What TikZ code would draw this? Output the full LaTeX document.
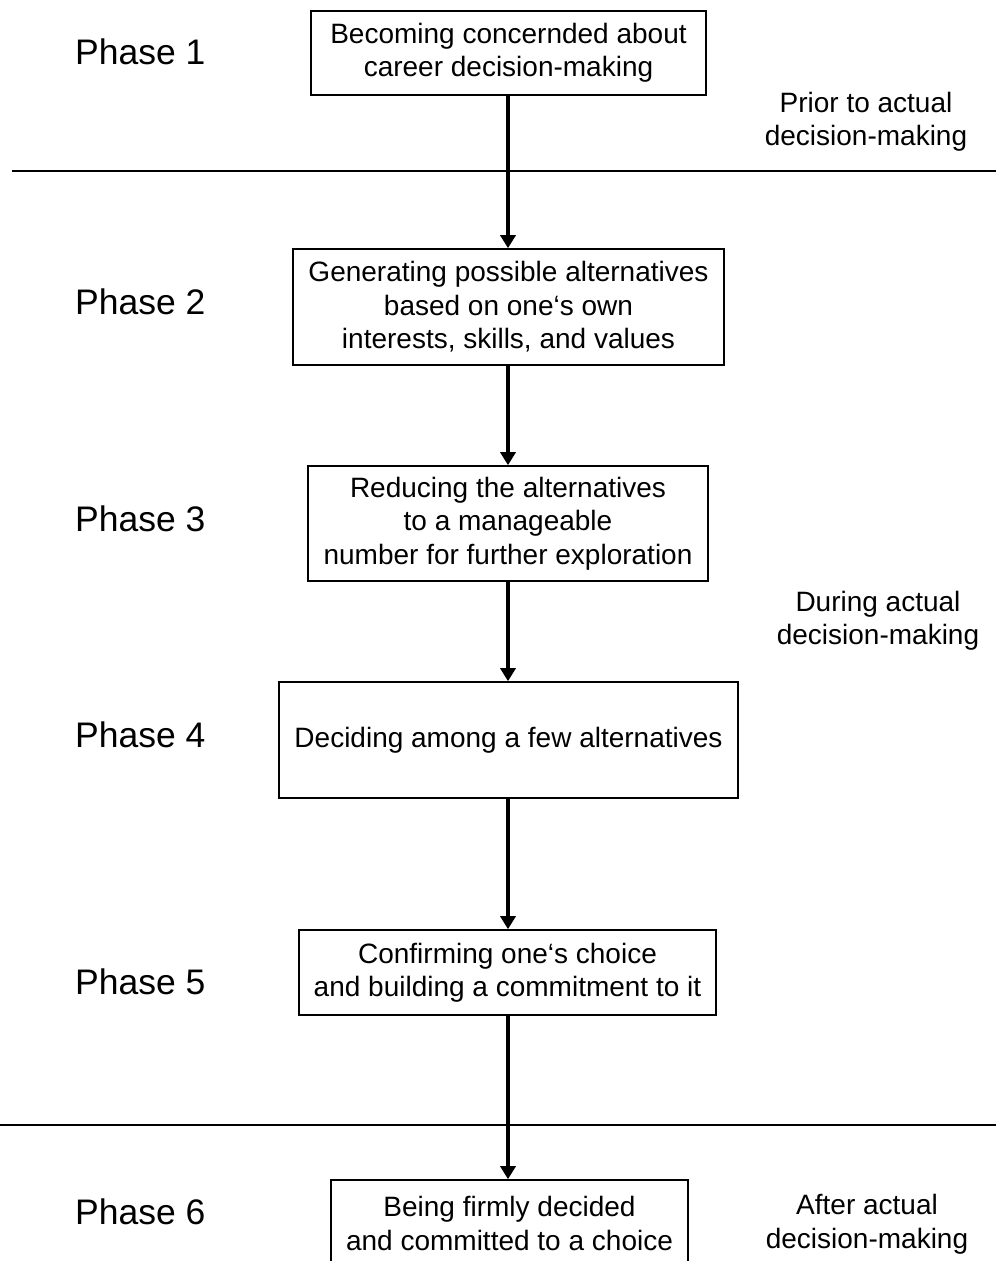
\documentclass[tikz,border=0pt]{standalone}
\usepackage{fontspec}
\setmainfont{Liberation Sans}
\usetikzlibrary{arrows.meta}
\begin{document}
\begin{tikzpicture}[x=1pt,y=-1pt,
  phasebox/.style={draw,line width=1.6pt,align=center,inner sep=0pt,
    font=\fontsize{28}{33.5}\selectfont},
  phaselabel/.style={anchor=west,inner sep=0pt,font=\fontsize{35.5}{40}\selectfont},
  sidelabel/.style={align=center,inner sep=0pt,font=\fontsize{28}{33.5}\selectfont},
  flow/.style={line width=3.4pt,-{Triangle[width=15pt,length=13pt]}},
  divider/.style={line width=1.6pt}]
\clip (0,0) rectangle (996,1261);
\fill[white] (0,0) rectangle (996,1261);
% boxes
\node[phasebox,minimum width=395pt,minimum height=84pt] (b1) at (508.5,53) {Becoming concernded about\\career decision-making};
\node[phasebox,minimum width=431pt,minimum height=116pt] (b2) at (508.5,307) {Generating possible alternatives\\based on one‘s own\\interests, skills, and values};
\node[phasebox,minimum width=400pt,minimum height=115pt] (b3) at (508,523.5) {Reducing the alternatives\\to a manageable\\number for further exploration};
\node[phasebox,minimum width=459pt,minimum height=116pt] (b4) at (508.5,740) {Deciding among a few alternatives};
\node[phasebox,minimum width=417pt,minimum height=85pt] (b5) at (507.5,972.5) {Confirming one‘s choice\\and building a commitment to it};
\node[phasebox,minimum width=357pt,minimum height=87pt] (b6) at (509.5,1223.5) {Being firmly decided\\and committed to a choice};
% phase labels
\node[phaselabel] (p1) at (75,52) {Phase 1};
\node[phaselabel] (p2) at (75,302) {Phase 2};
\node[phaselabel] (p3) at (75,519) {Phase 3};
\node[phaselabel] (p4) at (75,735) {Phase 4};
\node[phaselabel] (p5) at (75,982) {Phase 5};
\node[phaselabel] (p6) at (75,1212) {Phase 6};
% side labels
\node[sidelabel] (s1) at (866,122) {Prior to actual\\decision-making};
\node[sidelabel] (s2) at (878,621) {During actual\\decision-making};
\node[sidelabel] (s3) at (867,1224) {After actual\\decision-making};
% dividers
\coordinate (l1a) at (12,171);
\coordinate (l1b) at (996,171);
\coordinate (l2a) at (0,1125);
\coordinate (l2b) at (996,1125);
\draw[divider] (l1a) -- (l1b);
\draw[divider] (l2a) -- (l2b);
% arrows (vertical at x = 508)
\coordinate (ax) at (508,0);
\draw[flow] (b1.south -| ax) -- (b2.north -| ax);
\draw[flow] (b2.south -| ax) -- (b3.north -| ax);
\draw[flow] (b3.south -| ax) -- (b4.north -| ax);
\draw[flow] (b4.south -| ax) -- (b5.north -| ax);
\draw[flow] (b5.south -| ax) -- (b6.north -| ax);
\end{tikzpicture}
\end{document}
